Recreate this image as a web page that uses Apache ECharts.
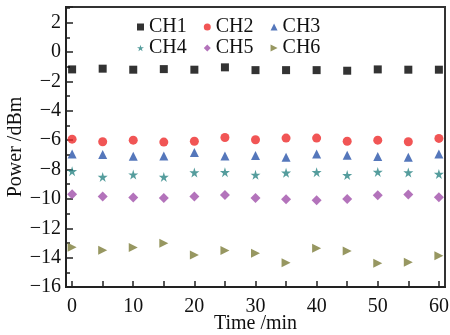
<!DOCTYPE html>
<html>
<head>
<meta charset="utf-8">
<script src="https://cdn.jsdelivr.net/npm/echarts@6/dist/echarts.min.js"></script>
<style>
  html, body { margin: 0; padding: 0; background: #fff; }
  #main { width: 450px; height: 335px; }
</style>
</head>
<body>
<div id="main"></div>
<script>
const times = [0, 5, 10, 15, 20, 25, 30, 35, 40, 45, 50, 55, 60];
const ch1 = [-1.18, -1.13, -1.2, -1.16, -1.2, -1.04, -1.23, -1.23, -1.23, -1.27, -1.18, -1.2, -1.2];
const ch2 = [-5.93, -6.11, -6.0, -6.13, -6.07, -5.82, -5.97, -5.86, -5.86, -6.07, -6.0, -6.11, -5.88];
const ch3 = [-6.95, -6.98, -7.09, -7.07, -6.84, -7.07, -7.05, -7.16, -6.95, -7.02, -7.11, -7.16, -6.95];
const ch4 = [-8.11, -8.5, -8.34, -8.5, -8.2, -8.18, -8.36, -8.22, -8.18, -8.38, -8.16, -8.2, -8.3];
const ch5 = [-9.68, -9.84, -9.9, -9.93, -9.84, -9.73, -9.93, -10.02, -10.09, -10.0, -9.75, -9.7, -9.89];
const ch6 = [-13.29, -13.5, -13.31, -13.02, -13.82, -13.52, -13.7, -14.34, -13.36, -13.54, -14.38, -14.31, -13.88];
const xLabels = [0, 10, 20, 30, 40, 50, 60];
const xTicks = [0, 5, 10, 15, 20, 25, 30, 35, 40, 45, 50, 55, 60];

const FONT = '"Liberation Serif", "DejaVu Serif", serif';
const star = 'path://M50,0 L61,35 L98,35 L68,57 L79,91 L50,70 L21,91 L32,57 L2,35 L39,35 Z';
const rightTri = 'path://M0,0 L10,5 L0,10 Z';

function pairs(vals) {
  return times.map((t, i) => [t, vals[i]]);
}

const chart = echarts.init(document.getElementById('main'));

const seriesDefs = [
  { name: 'CH1', data: ch1, color: '#000000', symbol: 'rect', size: 8 },
  { name: 'CH2', data: ch2, color: '#ee2b2b', symbol: 'circle', size: 9 },
  { name: 'CH3', data: ch3, color: '#2a55aa', symbol: 'triangle', size: 9 },
  { name: 'CH4', data: ch4, color: '#2a8585', symbol: star, size: 10 },
  { name: 'CH5', data: ch5, color: '#a050aa', symbol: 'diamond', size: 10 },
  { name: 'CH6', data: ch6, color: '#7d7d3a', symbol: 'triangle', size: 9, rotate: -90 }
];

const legendCommon = {
  itemWidth: 7,
  itemHeight: 7,
  itemGap: 17,
  textStyle: { fontFamily: FONT, fontSize: 20, color: '#111' }
};

chart.setOption({
  animation: false,
  backgroundColor: '#fff',
  grid: {
    left: 66, right: 5, top: 7, bottom: 48,
    outerBoundsMode: 'none',
    containLabel: false,
    show: true, borderColor: '#333', borderWidth: 2
  },
  legend: [
    Object.assign({ data: ['CH1', 'CH2', 'CH3'], left: 132, top: 12 }, legendCommon),
    Object.assign({ data: ['CH4', 'CH5', { name: 'CH6', icon: rightTri }], left: 132, top: 33 }, legendCommon)
  ],
  xAxis: {
    type: 'value',
    min: -1, max: 61,
    name: 'Time /min',
    nameLocation: 'middle',
    nameGap: 27,
    nameMoveOverlap: false,
    nameTextStyle: { fontFamily: FONT, fontSize: 20, color: '#111' },
    axisLine: { onZero: false, lineStyle: { color: '#222', width: 2 } },
    axisTick: { show: true, inside: true, length: 6, customValues: xTicks, lineStyle: { color: '#222', width: 1.5 } },
    axisLabel: { customValues: xLabels, fontFamily: FONT, fontSize: 20, color: '#111', margin: 10 },
    splitLine: { show: false }
  },
  yAxis: {
    type: 'value',
    min: -16, max: 3.07, interval: 2,
    name: 'Power /dBm',
    nameLocation: 'middle',
    nameGap: 40,
    nameMoveOverlap: false,
    nameTextStyle: { fontFamily: FONT, fontSize: 20, color: '#111' },
    axisLine: { show: true, onZero: false, lineStyle: { color: '#222', width: 2 } },
    axisTick: { show: true, inside: true, length: 7, lineStyle: { color: '#222', width: 1.5 } },
    minorTick: { show: true, splitNumber: 2, length: 4, lineStyle: { color: '#222', width: 1.5 } },
    axisLabel: {
      fontFamily: FONT, fontSize: 20, color: '#111', margin: 5,
      showMaxLabel: false,
      formatter: v => String(v).replace('-', '\u2212')
    },
    splitLine: { show: false }
  },
  series: seriesDefs.map(s => ({
    name: s.name,
    type: 'scatter',
    data: pairs(s.data),
    symbol: s.symbol,
    symbolSize: s.size,
    symbolRotate: s.rotate || 0,
    itemStyle: { color: s.color }
  }))
});
</script>
</body>
</html>
